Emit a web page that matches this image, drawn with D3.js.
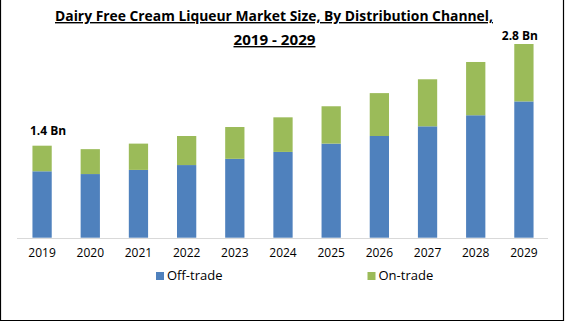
<!DOCTYPE html>
<html lang="en">
<head>
    <meta charset="utf-8">
    <title>Dairy Free Cream Liqueur Market Size</title>
    <script src="https://d3js.org/d3.v7.min.js"></script>
    <style>
        body { margin: 0; background: #fff; }
        text { font-family: "Open Sans", sans-serif; }
    </style>
</head>
<body>
<script>

var years = ["2019","2020","2021","2022","2023","2024","2025","2026","2027","2028","2029"]
var offTrade = [0.96, 0.92, 0.98, 1.05, 1.14, 1.24, 1.36, 1.47, 1.61, 1.77, 1.97]
var onTrade  = [0.37, 0.36, 0.38, 0.42, 0.46, 0.50, 0.54, 0.62, 0.68, 0.77, 0.83]
var seriesNames = ["Off-trade", "On-trade"]
var colors = ["#4f81bd", "#9bbb59"]
var valueLabels = [{year: "2019", text: "1.4 Bn"}, {year: "2029", text: "2.8 Bn"}]

var w = 565, h = 322

var svg = d3.select("body").append("svg").attr("width", w).attr("height", h)

// outer frame (no top edge in the original)
svg.append("path").attr("d", "M0.5,0 V320.5 H563.5 V0")
    .attr("fill", "none").attr("stroke", "#000").attr("stroke-width", 1.2)

// title
var title = svg.append("g").attr("font-weight", "bold").attr("text-anchor", "middle")
    .attr("text-decoration", "underline").attr("fill", "#000")
title.append("text").attr("x", 274).attr("y", 21).attr("font-size", 14)
    .attr("textLength", 438).attr("lengthAdjust", "spacingAndGlyphs")
    .text("Dairy Free Cream Liqueur Market Size, By Distribution Channel,")
title.append("text").attr("x", 274.5).attr("y", 45).attr("font-size", 14)
    .attr("textLength", 82).attr("lengthAdjust", "spacingAndGlyphs")
    .text("2019 - 2029")

var data = years.map(function (y, i) { return {year: y, off: offTrade[i], on: onTrade[i]} })
var stack = d3.stack().keys(["off", "on"])(data)

var x = d3.scaleBand().domain(years).range([18, 548]).paddingInner(0.6).paddingOuter(0.3)
var y = d3.scaleLinear().domain([0, 2.8]).range([237.7, 44])

svg.append("g").selectAll("g").data(stack).join("g")
    .attr("fill", function (d, i) { return colors[i] })
    .selectAll("rect").data(function (d) { return d }).join("rect")
    .attr("x", function (d) { return x(d.data.year) })
    .attr("width", x.bandwidth())
    .attr("y", function (d) { return y(d[1]) })
    .attr("height", function (d) { return y(d[0]) - y(d[1]) })

// x axis
var xAxis = svg.append("g").attr("transform", "translate(0,238)")
    .call(d3.axisBottom(x).tickSize(0).tickPadding(10))
xAxis.select(".domain").attr("stroke", "#d9d9d9").attr("d", "M17,0.5H548")
xAxis.selectAll("text").attr("font-size", 12).attr("fill", "#000")
    .attr("font-family", "Open Sans, sans-serif")

// value labels
svg.selectAll(".vl").data(valueLabels).join("text").attr("class", "vl")
    .attr("x", function (d) { return x(d.year) + x.bandwidth() / 2 + (d.year === "2019" ? 6 : -4) })
    .attr("y", function (d) {
        var i = years.indexOf(d.year)
        return y(offTrade[i] + onTrade[i]) - (d.year === "2019" ? 11 : 4)
    })
    .attr("text-anchor", "middle").attr("font-size", 12).attr("font-weight", "bold")
    .text(function (d) { return d.text })

// legend
var legend = svg.append("g").selectAll("g").data(seriesNames).join("g")
    .attr("transform", function (d, i) { return "translate(" + [156, 367.5][i] + ",272)" })
legend.append("rect").attr("width", 8).attr("height", 8)
    .attr("fill", function (d, i) { return colors[i] })
legend.append("text").attr("x", 11).attr("y", 8).attr("font-size", 13).attr("fill", "#000")
    .text(function (d) { return d })

</script>
</body>
</html>
